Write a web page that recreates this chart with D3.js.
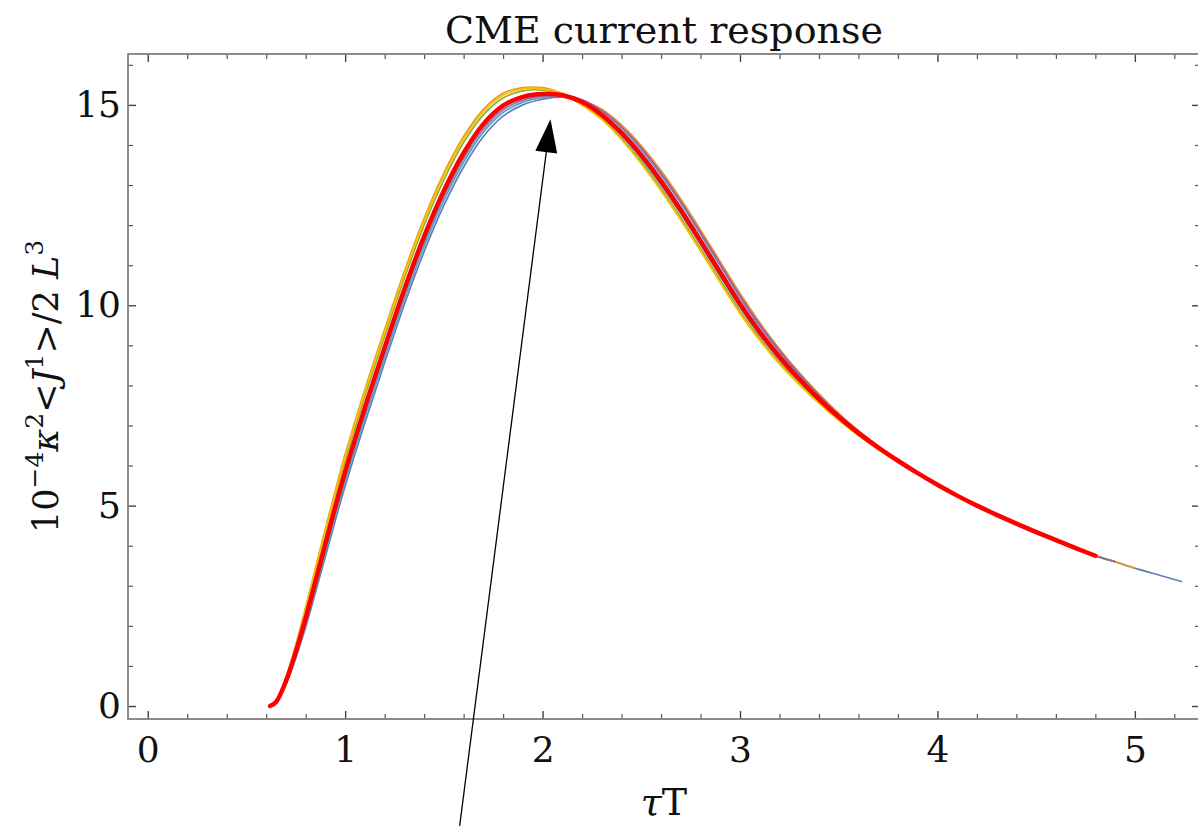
<!DOCTYPE html>
<html>
<head>
<meta charset="utf-8">
<script src="https://cdn.jsdelivr.net/npm/d3@7"></script>
<style>
body { margin: 0; background: #fff; overflow: hidden; }
svg { display: block; }
svg text { font-family: "DejaVu Serif", serif; fill: #111; white-space: pre; }
</style>
</head>
<body>
<div id="svg"></div>
<script>

// tau*T grid shared by all curves
var tau = [0.62,0.65,0.70,0.75,0.80,0.85,0.90,0.95,1.00,1.10,1.20,1.30,1.40,1.50,1.60,1.70,1.80,1.90,2.00,2.10,
           2.20,2.30,2.40,2.50,2.60,2.70,2.80,2.90,3.00,3.10,3.20,3.30,3.40,3.50,3.60,3.70,3.80,3.90,4.00,4.10,
           4.20,4.30,4.40,4.50,4.60,4.70,4.80,4.90,5.00,5.10,5.24];

// ensemble of runs (thin lines), each may stop earlier on the grid
var runBlue = [0.00,0.08,0.54,1.20,1.97,2.84,3.73,4.63,5.49,7.07,8.57,10.02,11.34,12.49,13.45,14.21,14.72,15.00,15.14,15.20,
               15.07,14.71,14.24,13.67,13.01,12.29,11.52,10.73,9.95,9.26,8.65,8.11,7.62,7.18,6.79,6.44,6.11,5.81,5.52,5.25,
               5.00,4.77,4.55,4.34,4.14,3.94,3.75,3.60,3.44,3.30,3.10];
var runOrange = [0.00,0.12,0.71,1.53,2.47,3.46,4.43,5.38,6.28,7.90,9.40,10.85,12.17,13.30,14.21,14.89,15.29,15.43,15.43,15.29,
                 15.12,14.89,14.50,13.98,13.36,12.65,11.88,11.09,10.30,9.57,8.91,8.32,7.79,7.30,6.87,6.49,6.14,5.82,5.52,5.25,
                 5.00,4.77,4.55,4.34,4.14,3.94,3.75,3.60,3.44];
var runGreen = [0.00,0.11,0.68,1.46,2.37,3.33,4.29,5.22,6.12,7.73,9.23,10.68,12.00,13.13,14.06,14.75,15.17,15.35,15.37,15.27,
                15.01,14.66,14.17,13.59,12.92,12.19,11.42,10.63,9.86,9.18,8.58,8.06,7.58,7.15,6.77,6.42,6.11,5.81,5.52,5.25,
                5.00,4.77,4.55,4.34,4.14,3.94,3.75,3.60];
var runPurple = [0.00,0.09,0.59,1.29,2.11,3.01,3.92,4.84,5.71,7.30,8.80,10.25,11.57,12.71,13.66,14.40,14.88,15.12,15.22,15.23,
                 15.12,14.84,14.43,13.89,13.26,12.55,11.78,10.99,10.20,9.48,8.84,8.26,7.74,7.27,6.85,6.48,6.13,5.82,5.52,5.25,
                 5.00,4.77,4.55,4.34,4.14,3.94,3.75,3.60];
var runGold = [0.00,0.12,0.70,1.50,2.43,3.41,4.37,5.31,6.21,7.83,9.33,10.78,12.10,13.23,14.15,14.83,15.24,15.40,15.40,15.28,
               14.99,14.63,14.13,13.53,12.85,12.12,11.35,10.56,9.79,9.12,8.53,8.02,7.55,7.13,6.75,6.41,6.10,5.80,5.52,5.25,
               5.00,4.77,4.55,4.34,4.14,3.94,3.75,3.60];
var runSky = [0.00,0.09,0.57,1.25,2.05,2.93,3.84,4.75,5.61,7.20,8.70,10.15,11.47,12.62,13.57,14.32,14.81,15.07,15.18,15.22,
              15.10,14.79,14.36,13.81,13.17,12.45,11.68,10.89,10.11,9.40,8.77,8.21,7.70,7.24,6.83,6.46,6.13,5.81,5.52,5.25,
              5.00,4.77,4.55,4.34,4.14,3.94,3.75,3.60];
var runMagenta = [0.00,0.10,0.61,1.33,2.17,3.08,4.01,4.93,5.80,7.40,8.90,10.35,11.67,12.81,13.75,14.48,14.95,15.17,15.25,15.24,
                  15.13,14.86,14.45,13.93,13.30,12.59,11.82,11.03,10.24,9.52,8.87,8.29,7.76,7.28,6.86,6.48,6.14,5.82,5.52,5.25,
                  5.00,4.77,4.55,4.34,4.14,3.94,3.75,3.60];

// mean curve (thick red)
var curveRed = [0.00,0.10,0.62,1.35,2.20,3.12,4.05,4.97,5.85,7.45,8.95,10.40,11.72,12.86,13.80,14.52,14.98,15.20,15.27,15.24,
                15.07,14.75,14.30,13.74,13.09,12.37,11.60,10.81,10.03,9.33,8.71,8.16,7.66,7.21,6.81,6.45,6.12,5.81,5.52,5.25,
                5.00,4.77,4.55,4.34,4.14,3.94,3.75];

var runs = [runBlue, runOrange, runGreen, runPurple, runGold, runSky, runMagenta];
var runColors = ["#5E81B5", "#E19C24", "#8FB032", "#8778B3", "#FFBF00", "#5D9EC7", "#A5619D"];

var xMajor = [0, 1, 2, 3, 4, 5];
var yMajor = [0, 5, 10, 15];
var titleText = "CME current response";

// arrow annotation, in data coordinates
var arrowTail = [1.58, -2.99];
var arrowTip = [2.04, 14.64];


var svg = {width: 1198, height: 826};
var frame = {left: 128, right: 1200, top: 54, bot: 719};

var x = d3.scaleLinear().domain([-0.1, 5.33]).range([frame.left, frame.right]);
var y = d3.scaleLinear().domain([-0.324, 16.27]).range([frame.bot, frame.top]);

var svg_cont = d3.select("#svg").append("svg")
    .attr("width", svg.width)
    .attr("height", svg.height);

create_frame();
draw_curves();
draw_arrow();
draw_labels();


function to_points(vals) {
    return vals.map(function(v, i) { return [tau[i], v]; });
}

function create_frame() {
    var xMinor = d3.range(0, 5.4, 0.2).filter(function(t) {
        return Math.abs(t - Math.round(t)) > 1e-6;
    });
    var yMinor = d3.range(0, 17, 1).filter(function(v) { return v % 5 != 0; });

    var fr = svg_cont.append("g").attr("id", "lay-frame");

    var axes = [
        {ax: d3.axisBottom(x), pos: "translate(0," + frame.bot + ")", maj: xMajor, min: xMinor, lab: true, pad: 17},
        {ax: d3.axisTop(x), pos: "translate(0," + frame.top + ")", maj: xMajor, min: xMinor, lab: false, pad: 0},
        {ax: d3.axisLeft(y), pos: "translate(" + frame.left + ",0)", maj: yMajor, min: yMinor, lab: true, pad: 7},
        {ax: d3.axisRight(y), pos: "translate(" + frame.right + ",0)", maj: yMajor, min: yMinor, lab: false, pad: 0}
    ];

    axes.forEach(function(a) {
        var gmin = fr.append("g").attr("transform", a.pos)
            .call(a.ax.tickValues(a.min).tickSizeInner(-5).tickSizeOuter(0).tickFormat(""));
        gmin.select(".domain").remove();
        gmin.selectAll("line").attr("stroke", "#555").attr("stroke-width", 1.2);

        var gmaj = fr.append("g").attr("transform", a.pos)
            .call(a.ax.tickValues(a.maj).tickSizeInner(-8).tickSizeOuter(0)
                  .tickPadding(a.pad).tickFormat(a.lab ? d3.format("d") : ""));
        gmaj.select(".domain").remove();
        gmaj.selectAll("line").attr("stroke", "#444").attr("stroke-width", 1.4);
        gmaj.selectAll("text")
            .attr("font-size", 36)
            .attr("font-family", "DejaVu Serif")
            .attr("fill", "#111");
    });

    fr.append("rect")
        .attr("x", frame.left)
        .attr("y", frame.top)
        .attr("width", frame.right - frame.left)
        .attr("height", frame.bot - frame.top)
        .attr("fill", "none")
        .attr("stroke", "#808080")
        .attr("stroke-width", 1.8);
}

function draw_curves() {
    var line = d3.line()
        .x(function(d) { return x(d[0]); })
        .y(function(d) { return y(d[1]); })
        .curve(d3.curveCatmullRom.alpha(0.5));

    var cg = svg_cont.append("g").attr("id", "lay-curves");

    cg.selectAll("path.run")
        .data(runs)
        .enter()
        .append("path")
        .attr("class", "run")
        .attr("d", function(d) { return line(to_points(d)); })
        .attr("fill", "none")
        .attr("stroke", function(d, i) { return runColors[i]; })
        .attr("stroke-width", 1.7);

    cg.append("path")
        .attr("d", line(to_points(curveRed)))
        .attr("fill", "none")
        .attr("stroke", "#ff0000")
        .attr("stroke-width", 4.5)
        .attr("stroke-linecap", "round")
        .attr("stroke-linejoin", "round");
}

function draw_arrow() {
    var x0 = x(arrowTail[0]), y0 = y(arrowTail[1]);
    var x1 = x(arrowTip[0]), y1 = y(arrowTip[1]);
    var len = Math.hypot(x1 - x0, y1 - y0);
    var ux = (x1 - x0) / len, uy = (y1 - y0) / len;
    var hl = 33, hw = 11;
    var bx = x1 - ux * hl, by = y1 - uy * hl;

    var ag = svg_cont.append("g").attr("id", "lay-arrow");
    ag.append("line")
        .attr("x1", x0).attr("y1", y0)
        .attr("x2", bx + ux * 2).attr("y2", by + uy * 2)
        .attr("stroke", "black")
        .attr("stroke-width", 1.3);
    ag.append("polygon")
        .attr("points", [
            [x1, y1],
            [bx - uy * hw, by + ux * hw],
            [bx + uy * hw, by - ux * hw]
        ].map(function(p) { return p.join(","); }).join(" "))
        .attr("fill", "black");
}

function draw_labels() {
    var midX = (frame.left + frame.right) / 2;
    var midY = (frame.top + frame.bot) / 2;

    svg_cont.append("text")
        .attr("x", midX)
        .attr("y", 43)
        .attr("text-anchor", "middle")
        .attr("font-size", 38)
        .text(titleText);

    // x label : tau T
    var xl = svg_cont.append("text")
        .attr("x", midX)
        .attr("y", 815)
        .attr("text-anchor", "middle")
        .attr("font-size", 38);
    xl.append("tspan").attr("font-style", "italic").text("τ");
    xl.append("tspan").text("T");

    // y label : 10^-4 kappa^2 <J^1>/2 L^3
    var parts = [
        {t: "10"}, {t: "\u22124", sup: true},
        {t: "κ", it: true}, {t: "2", sup: true},
        {t: "<"}, {t: "J", it: true}, {t: "1", sup: true},
        {t: ">/2 "}, {t: "L", it: true}, {t: "3", sup: true}
    ];
    var yl = svg_cont.append("text")
        .attr("transform", "translate(58," + midY + ") rotate(-90)")
        .attr("text-anchor", "middle")
        .attr("font-size", 35);
    var up = false;
    parts.forEach(function(p) {
        var ts = yl.append("tspan").text(p.t);
        if (p.sup) {
            ts.attr("font-size", 25).attr("dy", -15);
            up = true;
        } else if (up) {
            ts.attr("dy", 15);
            up = false;
        }
        if (p.it) ts.attr("font-style", "italic");
    });
}

</script>
</body>
</html>
